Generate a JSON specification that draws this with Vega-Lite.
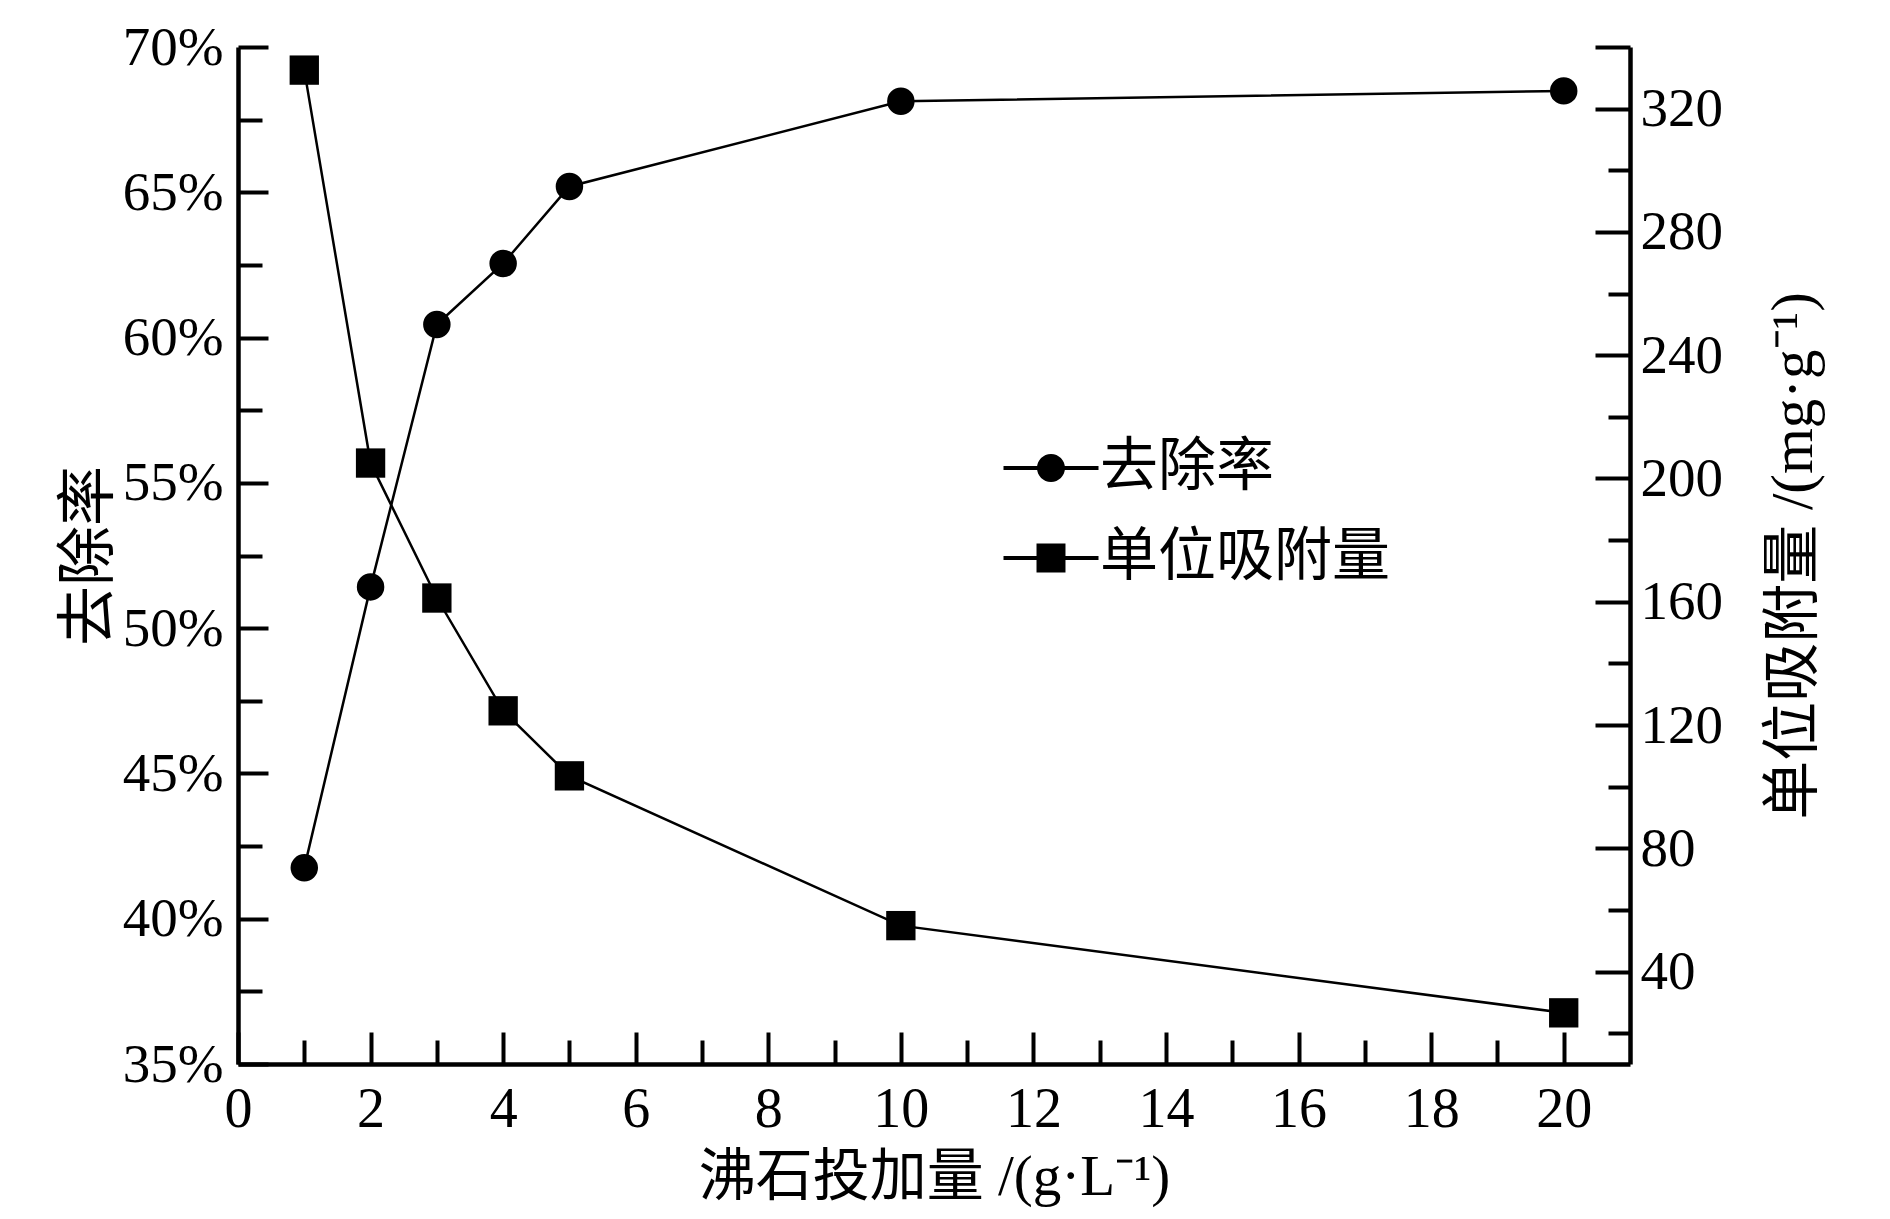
{
  "$schema": "https://vega.github.io/schema/vega-lite/v6.json",
  "autosize": {"type": "none"},
  "width": 1392,
  "height": 1017,
  "padding": {"left": 238, "top": 47, "right": 260, "bottom": 155},
  "background": "white",
  "config": {
    "view": {"stroke": null},
    "axis": {
      "grid": false,
      "domainColor": "black",
      "domainWidth": 4.5,
      "tickColor": "black",
      "tickWidth": 4,
      "labelColor": "black",
      "labelFont": "Liberation Serif",
      "labelFontSize": 55,
      "labelFlush": false,
      "labelOverlap": false,
      "labelBound": false,
      "titleColor": "black",
      "titleFont": "Liberation Serif, Noto Sans CJK SC",
      "titleFontSize": 55,
      "titleFontWeight": "normal"
    }
  },
  "datasets": {
    "d": [
      {"dose": 1, "removal": 41.75, "adsorption": 332.5},
      {"dose": 2, "removal": 51.42, "adsorption": 205.0},
      {"dose": 3, "removal": 60.45, "adsorption": 161.2},
      {"dose": 4, "removal": 62.55, "adsorption": 124.6},
      {"dose": 5, "removal": 65.2, "adsorption": 103.5},
      {"dose": 10, "removal": 68.13, "adsorption": 54.9},
      {"dose": 20, "removal": 68.49, "adsorption": 26.6}
    ]
  },
  "data": {"name": "d"},
  "encoding": {
    "x": {
      "field": "dose",
      "type": "quantitative",
      "scale": {"domain": [0, 21], "nice": false, "zero": false},
      "axis": {
        "orient": "bottom",
        "values": [0, 1, 2, 3, 4, 5, 6, 7, 8, 9, 10, 11, 12, 13, 14, 15, 16, 17, 18, 19, 20],
        "labelExpr": "datum.value % 2 === 0 ? datum.label : ''",
        "tickSize": {"condition": {"test": "datum.value % 2 === 0", "value": -32}, "value": -24},
        "labelPadding": 50,
        "labelFontSize": 56,
        "title": "沸石投加量 /(g·L⁻¹)",
        "titleFontSize": 57,
        "titlePadding": 4
      }
    }
  },
  "layer": [
    {
      "layer": [
        {
          "mark": {"type": "line", "color": "black", "strokeWidth": 2.5},
          "encoding": {
            "y": {
              "field": "removal",
              "type": "quantitative",
              "scale": {"domain": [35, 70], "nice": false, "zero": false},
              "axis": {
                "orient": "left",
                "values": [35, 37.5, 40, 42.5, 45, 47.5, 50, 52.5, 55, 57.5, 60, 62.5, 65, 67.5, 70],
                "labelExpr": "datum.value % 5 === 0 ? datum.value + '%' : ''",
                "tickSize": {"condition": {"test": "datum.value % 5 === 0", "value": -30}, "value": -24},
                "labelPadding": 45,
                "title": "去除率",
                "titleFontSize": 60,
                "titlePadding": 2
              }
            }
          }
        },
        {
          "mark": {"type": "point", "shape": "circle", "filled": true, "color": "black", "size": 755, "opacity": 1},
          "encoding": {"y": {"field": "removal", "type": "quantitative"}}
        },
        {
          "transform": [{"filter": "false"}],
          "mark": {"type": "point", "filled": true, "color": "black", "opacity": 1, "strokeWidth": 0},
          "encoding": {
            "shape": {
              "field": "series",
              "type": "nominal",
              "scale": {
                "domain": ["去除率", "单位吸附量"],
                "range": [
                  "M-1,-0.042H1V0.042H-1ZM-0.2947,0A0.2947,0.2947,0,1,1,0.2947,0A0.2947,0.2947,0,1,1,-0.2947,0Z",
                  "M-1,-0.042H1V0.042H-1ZM-0.305,-0.305H0.305V0.305H-0.305Z"
                ]
              },
              "legend": {
                "orient": "none",
                "legendX": 765.5,
                "legendY": 373.5,
                "title": null,
                "padding": 0,
                "labelFont": "Liberation Serif, Noto Sans CJK SC",
                "labelFontSize": 58,
                "labelColor": "black",
                "labelLimit": 0,
                "labelOffset": 1.5,
                "rowPadding": 13,
                "symbolSize": 9025,
                "symbolFillColor": "black",
                "symbolStrokeWidth": 0,
                "symbolOpacity": 1,
                "encode": {
                  "symbols": {
                    "fill": {"value": "black"},
                    "opacity": {"value": 1}
                  }
                }
              }
            }
          }
        }
      ]
    },
    {
      "layer": [
        {
          "mark": {"type": "line", "color": "black", "strokeWidth": 2.5},
          "encoding": {
            "y": {
              "field": "adsorption",
              "type": "quantitative",
              "scale": {"domain": [10, 340], "nice": false, "zero": false},
              "axis": {
                "orient": "right",
                "values": [20, 40, 60, 80, 100, 120, 140, 160, 180, 200, 220, 240, 260, 280, 300, 320, 340],
                "labelExpr": "datum.value % 40 === 0 && datum.value <= 320 ? datum.label : ''",
                "tickSize": {"condition": {"test": "datum.value % 40 === 0 || datum.value === 340", "value": -35}, "value": -22},
                "labelPadding": 45,
                "title": "单位吸附量 /(mg·g⁻¹)",
                "titleFontSize": 59,
                "titleAngle": 270,
                "titleBaseline": "top",
                "titlePadding": 42
              }
            }
          }
        },
        {
          "mark": {"type": "point", "shape": "square", "filled": true, "color": "black", "size": 860, "opacity": 1},
          "encoding": {"y": {"field": "adsorption", "type": "quantitative"}}
        }
      ]
    }
  ],
  "resolve": {"scale": {"y": "independent"}}
}
